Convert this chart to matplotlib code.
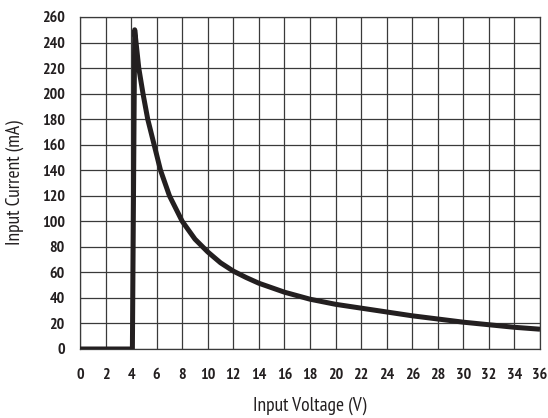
import numpy as np
import matplotlib.pyplot as plt
from matplotlib import font_manager
from matplotlib.font_manager import FontProperties

# values
voltage = [0, 4.1, 4.28, 4.6, 4.93, 5.3, 5.8, 6.3, 7.0, 8.0, 9.0, 10.0, 11.0, 12.0,
           13.0, 14, 16, 18, 20, 22, 24, 26, 28, 30, 32, 34, 36]
current = [0, 0, 250, 220, 200, 180, 160, 140, 120, 100, 86, 76, 67.5, 61,
           56, 51.5, 44.5, 39, 35, 32, 29, 26, 23.5, 21, 19, 17, 15.5]

x_ticks = list(range(0, 37, 2))
y_ticks = list(range(0, 261, 20))


def find_font(keys, bold):
    for f in font_manager.fontManager.ttflist:
        low = f.fname.lower()
        if all(k in low for k in keys) and (('bold' in low) == bold) and 'oblique' not in low and 'italic' not in low:
            return f.fname
    return None


bold_file = (find_font(['sans', 'narrow'], True) or find_font(['sans', 'condensed'], True))
reg_file = (find_font(['sans', 'narrow'], False) or find_font(['sans', 'condensed'], False))
tick_font = FontProperties(fname=bold_file, size=11.5) if bold_file else FontProperties(family='Liberation Sans', weight='bold', size=9)
label_font = FontProperties(fname=reg_file, size=14) if reg_file else FontProperties(family='Liberation Sans', size=11)

fig = plt.figure(figsize=(5.48, 4.18), dpi=100)
ax = fig.add_axes([80 / 548, 69 / 418, 460 / 548, 332 / 418])

ax.plot(voltage, current, color='#231f20', lw=3.6, solid_joinstyle='round',
        solid_capstyle='butt', zorder=3)

ax.set_xlim(0, 36)
ax.set_ylim(0, 260)
ax.set_xticks(x_ticks)
ax.set_yticks(y_ticks)
ax.grid(True, color='#3a3a3a', lw=0.9)
ax.set_axisbelow(True)
for s in ax.spines.values():
    s.set_color('#3a3a3a')
    s.set_linewidth(0.9)

ax.tick_params(axis='y', length=0, pad=11)
ax.tick_params(axis='x', length=0, pad=14)
for lab in ax.get_xticklabels() + ax.get_yticklabels():
    lab.set_fontproperties(tick_font)
    lab.set_color('#231f20')

ax.set_xlabel('Input Voltage (V)', fontproperties=label_font, color='#231f20', labelpad=10)
ax.set_ylabel('Input Current (mA)', fontproperties=label_font, color='#231f20', labelpad=13)

fig.savefig('out.png', dpi=100)
